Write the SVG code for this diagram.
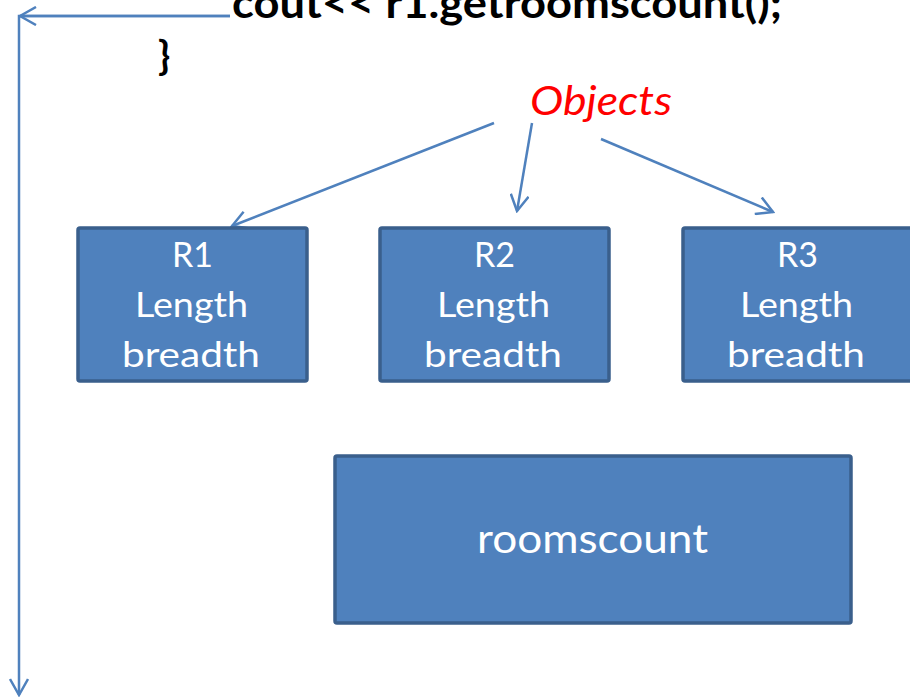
<svg xmlns="http://www.w3.org/2000/svg" width="910" height="697" viewBox="0 0 910 697">
<defs>
<style>
.box{fill:#4f81bd;stroke:#3a5f8c;stroke-width:3.5}
.bt{fill:#ffffff;font-family:Lato,"Open Sans",sans-serif;font-size:34px}
.ln{fill:none;stroke:#4f81bd;stroke-width:2.5}
.code{fill:#000;font-family:Lato,"Open Sans",sans-serif;font-weight:bold;font-size:42px}
</style>
<marker id="ah" viewBox="0 0 20 20" refX="18" refY="10" markerWidth="20" markerHeight="20" markerUnits="userSpaceOnUse" orient="auto">
<path d="M2,1 L18,10 L2,19" fill="none" stroke="#4f81bd" stroke-width="2.5"/>
</marker>
</defs>
<rect width="910" height="697" fill="#ffffff"/>
<text class="code" x="232" y="18" textLength="550" lengthAdjust="spacingAndGlyphs">cout&lt;&lt; r1.getroomscount();</text>
<text class="code" x="158" y="70" style="font-size:40px">}</text>
<text x="530" y="115" fill="#ff0000" font-family="Lato,'Open Sans',sans-serif" font-style="italic" font-size="40" textLength="142" lengthAdjust="spacingAndGlyphs">Objects</text>
<g id="connectors">
<polyline class="ln" points="230,16 19,16 19,695" marker-end="url(#ah)"/>
<line class="ln" x1="230" y1="16" x2="20" y2="16" marker-end="url(#ah)"/>
<line class="ln" x1="494" y1="123" x2="232" y2="226" marker-end="url(#ah)"/>
<line class="ln" x1="532" y1="123" x2="517" y2="211" marker-end="url(#ah)"/>
<line class="ln" x1="601" y1="139" x2="773" y2="212" marker-end="url(#ah)"/>
</g>
<g id="R1">
<rect class="box" x="78" y="228" width="229" height="153" rx="2"/>
<text class="bt" x="172" y="267" textLength="41" lengthAdjust="spacingAndGlyphs">R1</text>
<text class="bt" x="135" y="317" textLength="113" lengthAdjust="spacingAndGlyphs">Length</text>
<text class="bt" x="122" y="367" textLength="138" lengthAdjust="spacingAndGlyphs">breadth</text>
</g>
<g id="R2">
<rect class="box" x="380" y="228" width="229" height="153" rx="2"/>
<text class="bt" x="474" y="267" textLength="41" lengthAdjust="spacingAndGlyphs">R2</text>
<text class="bt" x="437" y="317" textLength="113" lengthAdjust="spacingAndGlyphs">Length</text>
<text class="bt" x="424" y="367" textLength="138" lengthAdjust="spacingAndGlyphs">breadth</text>
</g>
<g id="R3">
<rect class="box" x="683" y="228" width="229" height="153" rx="2"/>
<text class="bt" x="777" y="267" textLength="41" lengthAdjust="spacingAndGlyphs">R3</text>
<text class="bt" x="740" y="317" textLength="113" lengthAdjust="spacingAndGlyphs">Length</text>
<text class="bt" x="727" y="367" textLength="138" lengthAdjust="spacingAndGlyphs">breadth</text>
</g>
<g id="roomscount">
<rect class="box" x="335" y="456" width="516" height="167" rx="2"/>
<text class="bt" x="477" y="553" style="font-size:41px" textLength="231" lengthAdjust="spacingAndGlyphs">roomscount</text>
</g>
</svg>
